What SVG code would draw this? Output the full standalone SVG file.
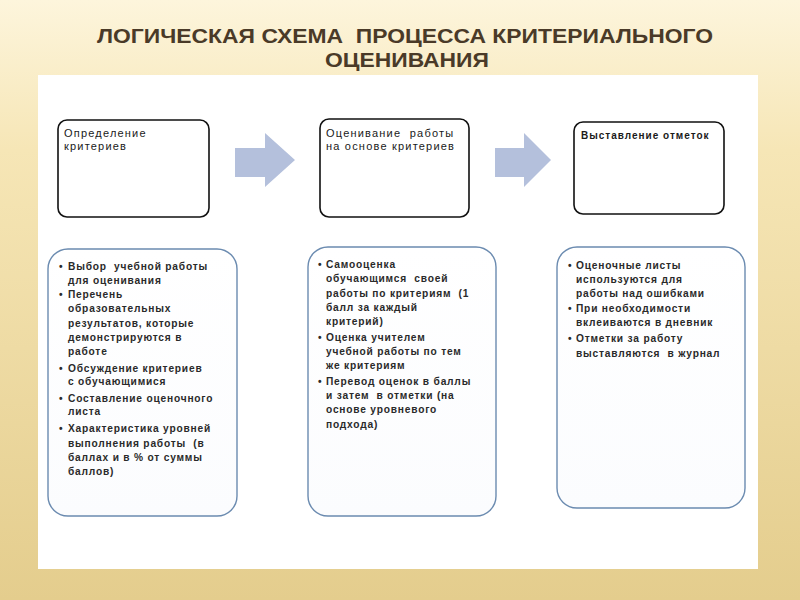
<svg xmlns="http://www.w3.org/2000/svg" width="800" height="600" viewBox="0 0 800 600">
<defs>
<linearGradient id="bg" x1="0" y1="0" x2="0" y2="1">
<stop offset="0" stop-color="#fdf5dc"/>
<stop offset="0.25" stop-color="#f6e6b6"/>
<stop offset="1" stop-color="#e4cd8d"/>
</linearGradient>
<linearGradient id="boxfill" x1="0" y1="0" x2="0" y2="1">
<stop offset="0" stop-color="#ffffff"/>
<stop offset="1" stop-color="#fbfcfe"/>
</linearGradient>
<style>
text{white-space:pre;}
.title{font-family:"Liberation Sans Narrow","Liberation Sans",Arial,sans-serif;font-weight:bold;font-size:21px;fill:#4a3a28;}
.top{fill:#ffffff;stroke:#111111;stroke-width:1.6;}
.bot{fill:url(#boxfill);stroke:#6b8bb0;stroke-width:1.4;}
.arrow{fill:#b4c0dc;}
.t1{font-family:"Liberation Sans",Arial,sans-serif;font-size:11px;fill:#1a1a1a;letter-spacing:1.2px;}
.t3{font-family:"Liberation Sans",Arial,sans-serif;font-size:10px;font-weight:bold;fill:#1a1a1a;letter-spacing:1px;}
.t2{font-family:"Liberation Sans",Arial,sans-serif;font-size:10.2px;font-weight:bold;fill:#2a2a2a;letter-spacing:0.8px;}
</style>
</defs>
<rect x="0" y="0" width="800" height="600" fill="url(#bg)"/>
<rect x="38" y="75" width="720" height="494" fill="#ffffff"/>
<text class="title" x="405" y="43" text-anchor="middle" textLength="616" lengthAdjust="spacingAndGlyphs">ЛОГИЧЕСКАЯ СХЕМА  ПРОЦЕССА КРИТЕРИАЛЬНОГО</text>
<text class="title" x="407" y="67" text-anchor="middle" textLength="164" lengthAdjust="spacingAndGlyphs">ОЦЕНИВАНИЯ</text>

<g id="connectors">
<path class="arrow" d="M235,148 H265 V133 L295,160 L265,187 V177 H235 Z"/>
<path class="arrow" d="M495,148 H524 V133 L551,160 L524,187 V177 H495 Z"/>
</g>

<g id="step1">
<rect class="top" x="58" y="120" width="151" height="97" rx="9"/>
<text class="t1" x="64" y="137">Определение</text>
<text class="t1" x="64" y="150">критериев</text>
</g>
<g id="step2">
<rect class="top" x="320" y="119" width="149" height="98" rx="9"/>
<text class="t1" x="326" y="137">Оценивание  работы</text>
<text class="t1" x="326" y="150">на основе критериев</text>
</g>
<g id="step3">
<rect class="top" x="574" y="122" width="150" height="92" rx="9"/>
<text class="t3" x="581" y="139">Выставление отметок</text>
</g>

<g id="detail1">
<rect class="bot" x="48" y="249" width="189" height="267" rx="20"/>
<g class="t2">
<text x="59" y="270">•</text><text x="68" y="270">Выбор  учебной работы</text>
<text x="68" y="284">для оценивания</text>
<text x="59" y="298">•</text><text x="68" y="298">Перечень</text>
<text x="68" y="312">образовательных</text>
<text x="68" y="327">результатов, которые</text>
<text x="68" y="341">демонстрируются в</text>
<text x="68" y="355">работе</text>
<text x="59" y="372">•</text><text x="68" y="372">Обсуждение критериев</text>
<text x="68" y="385">с обучающимися</text>
<text x="59" y="402">•</text><text x="68" y="402">Составление оценочного</text>
<text x="68" y="415">листа</text>
<text x="59" y="432">•</text><text x="68" y="432">Характеристика уровней</text>
<text x="68" y="447">выполнения работы  (в</text>
<text x="68" y="461">баллах и в % от суммы</text>
<text x="68" y="475">баллов)</text>
</g>
</g>

<g id="detail2">
<rect class="bot" x="308" y="247" width="188" height="269" rx="20"/>
<g class="t2">
<text x="318" y="268">•</text><text x="326" y="268">Самооценка</text>
<text x="326" y="282">обучающимся  своей</text>
<text x="326" y="297">работы по критериям  (1</text>
<text x="326" y="311">балл за каждый</text>
<text x="326" y="325">критерий)</text>
<text x="318" y="341">•</text><text x="326" y="341">Оценка учителем</text>
<text x="326" y="355">учебной работы по тем</text>
<text x="326" y="369">же критериям</text>
<text x="318" y="385">•</text><text x="326" y="385">Перевод оценок в баллы</text>
<text x="326" y="399">и затем  в отметки (на</text>
<text x="326" y="413">основе уровневого</text>
<text x="326" y="428">подхода)</text>
</g>
</g>

<g id="detail3">
<rect class="bot" x="557" y="247" width="188" height="261" rx="20"/>
<g class="t2">
<text x="568" y="269">•</text><text x="576" y="269">Оценочные листы</text>
<text x="576" y="283">используются для</text>
<text x="576" y="297">работы над ошибками</text>
<text x="568" y="312">•</text><text x="576" y="312">При необходимости</text>
<text x="576" y="326">вклеиваются в дневник</text>
<text x="568" y="342">•</text><text x="576" y="342">Отметки за работу</text>
<text x="576" y="357">выставляются  в журнал</text>
</g>
</g>
</svg>
